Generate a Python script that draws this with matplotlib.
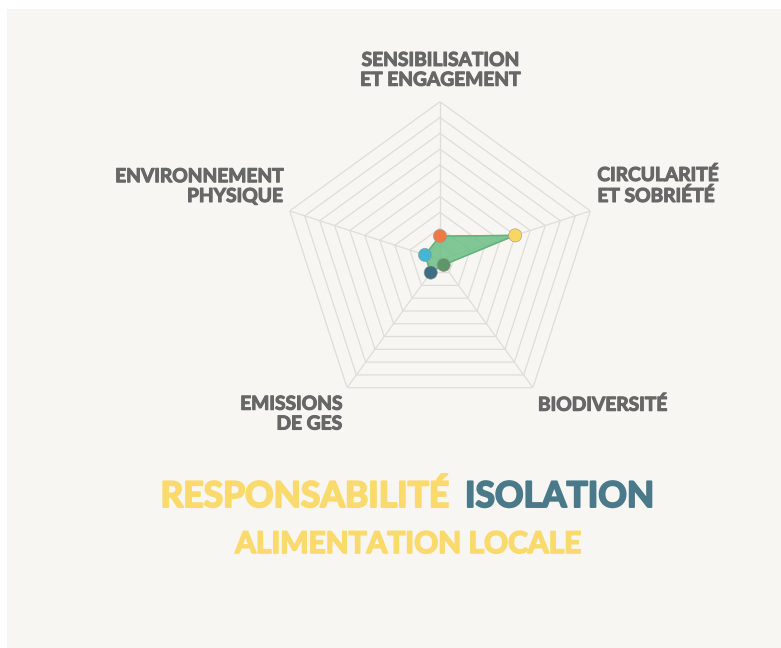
import numpy as np
import matplotlib.pyplot as plt
import matplotlib.patheffects as pe
from matplotlib.patches import Rectangle

# Scores per axis (0-10 scale), clockwise from the top
axes_labels = ['SENSIBILISATION\nET ENGAGEMENT', 'CIRCULARITÉ\nET SOBRIÉTÉ',
               'BIODIVERSITÉ', 'EMISSIONS\nDE GES', 'ENVIRONNEMENT\nPHYSIQUE']
scores = [1.5, 5.0, 0.4, 1.0, 1.0]
point_colors = ['#EE7A43', '#F9D562', '#5E9669', '#3C6E84', '#45B5D4']
max_score = 10
ring_levels = list(range(1, 11))

BG = '#F7F6F3'
LABEL_GREY = '#676767'
YELLOW = '#FADA6C'
TEAL = '#4A7A89'

fig = plt.figure(figsize=(7.81, 6.48), dpi=100, facecolor='white')
fig.patches.append(Rectangle((7 / 781, 0), 1, 1 - 9 / 648, transform=fig.transFigure,
                             facecolor=BG, edgecolor='none', zorder=-10))

W, H = 781, 648
cx, cy, R = 440, 259.8, 158.1
ax = fig.add_axes([(cx - R) / W, (H - cy - R) / H, 2 * R / W, 2 * R / H], projection='polar')
ax.set_theta_offset(np.pi / 2)
ax.set_theta_direction(-1)
ax.set_ylim(0, max_score)
ax.set_facecolor('none')
ax.grid(False)
ax.spines['polar'].set_visible(False)
ax.set_xticks([])
ax.set_yticks([])

n = len(axes_labels)
angles = np.linspace(0, 2 * np.pi, n, endpoint=False)
closed = np.append(angles, angles[0])

# pentagon grid
for lvl in ring_levels:
    ax.plot(closed, [lvl] * (n + 1), color='#DEDDD9', lw=0.9, zorder=1)
for a in angles:
    ax.plot([a, a], [0, max_score], color='#DEDDD9', lw=0.9, zorder=1)

vals = np.append(scores, scores[0])
ax.fill(closed, vals, color='#6DBE85', alpha=0.85, zorder=2)
ax.plot(closed, vals, color='#62B27A', lw=1, zorder=3)
ax.scatter(angles, scores, s=90, c=point_colors, edgecolors='#9A9A90',
           linewidths=0.4, zorder=4)


def heavy(color, w):
    return [pe.withStroke(linewidth=w, foreground=color)]


label_style = [
    dict(offset=(0, 13), ha='center', va='bottom'),
    dict(offset=(7, 6), ha='left', va='bottom'),
    dict(offset=(5, -8), ha='left', va='top'),
    dict(offset=(-5, -8), ha='right', va='top'),
    dict(offset=(-7, 6), ha='right', va='bottom'),
]
for a, txt, st in zip(angles, axes_labels, label_style):
    ax.annotate(txt, xy=(a, max_score), xytext=st['offset'], textcoords='offset pixels',
                ha=st['ha'], va=st['va'], multialignment=st['ha'],
                fontsize=13.8, fontfamily='Lato', fontweight='bold', color=LABEL_GREY,
                linespacing=1.2, annotation_clip=False,
                path_effects=heavy(LABEL_GREY, 0.8))

fig.text(449 / W, 1 - 507 / H, 'RESPONSABILITÉ', ha='right', va='baseline',
         fontsize=25.5, fontfamily='Lato', fontweight='bold', color=YELLOW,
         path_effects=heavy(YELLOW, 1.4))
fig.text(465 / W, 1 - 507 / H, 'ISOLATION', ha='left', va='baseline',
         fontsize=25.5, fontfamily='Lato', fontweight='bold', color=TEAL,
         path_effects=heavy(TEAL, 1.4))
fig.text(408 / W, 1 - 553 / H, 'ALIMENTATION LOCALE', ha='center', va='baseline',
         fontsize=21.5, fontfamily='Lato', fontweight='bold', color=YELLOW,
         path_effects=heavy(YELLOW, 1.2))

fig.savefig('out.png', dpi=100, facecolor='white')
